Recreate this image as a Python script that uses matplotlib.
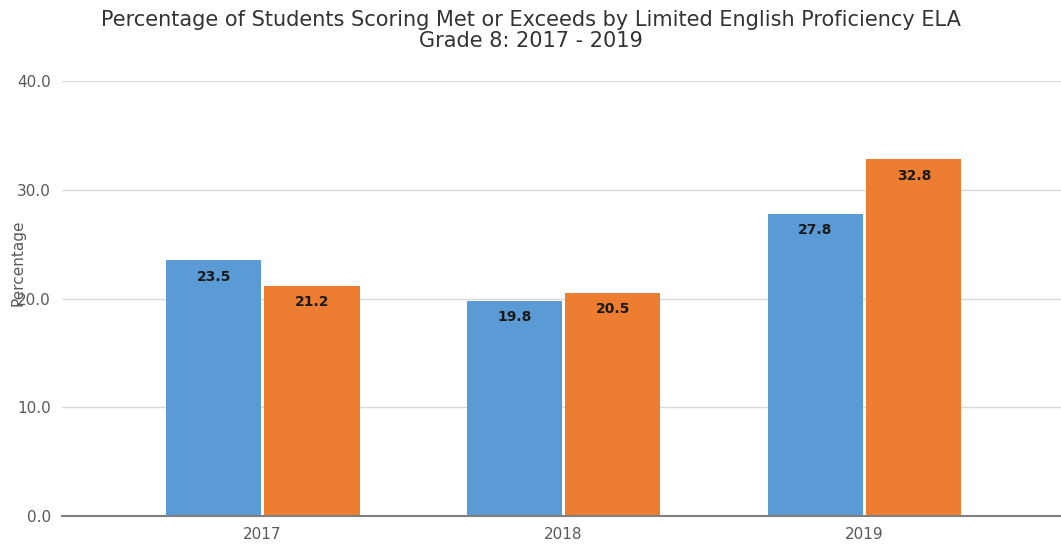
import numpy as np
import matplotlib.pyplot as plt

years = ["2017", "2018", "2019"]
series_a = [23.5, 19.8, 27.8]
series_b = [21.2, 20.5, 32.8]
yticks = [0, 10, 20, 30, 40]

fig = plt.figure(figsize=(10.61, 5.48), dpi=100)
ax = fig.add_axes([0.0584, 0.0584, 0.9416, 0.7936])

x = np.arange(len(years))
w = 0.316
b1 = ax.bar(x - 0.161, series_a, w, color="#5B9BD5")
b2 = ax.bar(x + 0.166, series_b, w, color="#ED7D31")

# value labels just inside the top of each bar
for bars, vals in ((b1, series_a), (b2, series_b)):
    for r, v in zip(bars, vals):
        ax.text(r.get_x() + r.get_width() / 2, v - 1.5, f"{v:.1f}",
                ha="center", va="center", fontsize=10, fontweight="bold",
                color="#1a1a1a")

ax.set_xlim(-0.665, 2.655)
ax.set_ylim(0, 40)
ax.set_yticks(yticks)
ax.set_yticklabels([f"{t:.1f}" for t in yticks])
ax.set_xticks(x)
ax.set_xticklabels(years)
ax.tick_params(length=0, colors="#595959", labelsize=11, pad=8)
ax.yaxis.grid(True, color="#d9d9d9", linewidth=1)
ax.set_axisbelow(True)
for s in ["top", "right", "left"]:
    ax.spines[s].set_visible(False)
ax.spines["bottom"].set_color("#7f7f7f")
ax.spines["bottom"].set_linewidth(1.5)

fig.text(0.017, 0.52, "Percentage", rotation=90, ha="center", va="center",
         fontsize=11, color="#595959")
fig.text(0.5, 0.982, "Percentage of Students Scoring Met or Exceeds by Limited English Proficiency ELA\nGrade 8: 2017 - 2019",
         ha="center", va="top", fontsize=15, color="#333333", linespacing=1.1)

fig.savefig("out.png", dpi=100)
